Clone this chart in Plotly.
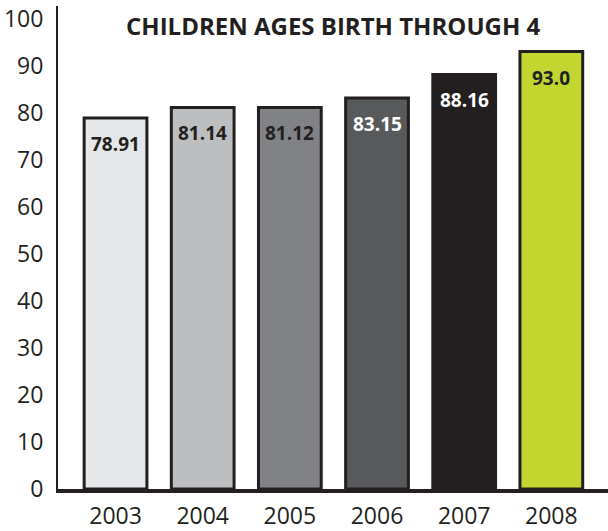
import plotly.graph_objects as go

years = ["2003", "2004", "2005", "2006", "2007", "2008"]
values = [78.91, 81.14, 81.12, 83.15, 88.16, 93.0]
labels = ["78.91", "81.14", "81.12", "83.15", "88.16", "93.0"]
bar_colors = ["#e6e7e8", "#bcbec0", "#808285", "#58595b", "#231f20", "#c1d72f"]
label_colors = ["#231f20", "#231f20", "#231f20", "#ffffff", "#ffffff", "#231f20"]
y_ticks = [0, 10, 20, 30, 40, 50, 60, 70, 80, 90, 100]

positions = list(range(len(years)))
ink = "#231f20"
font_family = "Open Sans, Noto Sans, sans-serif"

fig = go.Figure(
    go.Bar(
        x=positions,
        y=values,
        width=0.72,
        marker=dict(color=bar_colors, line=dict(color=ink, width=3)),
        hoverinfo="skip",
    )
)

# value labels sit just inside the top of each bar
for xi, v, txt, c in zip(positions, values, labels, label_colors):
    fig.add_annotation(
        x=xi, y=v, text=f"<b>{txt}</b>", showarrow=False,
        yshift=-26, font=dict(family=font_family, size=19, color=c),
    )

fig.add_annotation(
    x=0.5, xref="paper", y=1, yref="paper", yanchor="middle",
    yshift=-19,
    text="<b>CHILDREN AGES BIRTH THROUGH 4</b>", showarrow=False,
    font=dict(family=font_family, size=24, color=ink),
)

fig.update_layout(
    width=608, height=531,
    margin=dict(l=58, r=0, t=6, b=34),
    paper_bgcolor="white", plot_bgcolor="white",
    showlegend=False,
    xaxis=dict(
        range=[-0.66, 5.65],
        tickvals=positions, ticktext=years,
        showline=True, linecolor=ink, linewidth=4,
        ticks="outside", ticklen=3, tickcolor="rgba(0,0,0,0)",
        showgrid=False, zeroline=False,
        tickfont=dict(family=font_family, size=23, color=ink),
    ),
    yaxis=dict(
        range=[0, 102.7],
        tickvals=y_ticks,
        showline=True, linecolor=ink, linewidth=2,
        ticks="outside", ticklen=8, tickcolor="rgba(0,0,0,0)",
        showgrid=False, zeroline=False,
        tickfont=dict(family=font_family, size=23, color=ink),
    ),
)

fig.write_html("out.html")
